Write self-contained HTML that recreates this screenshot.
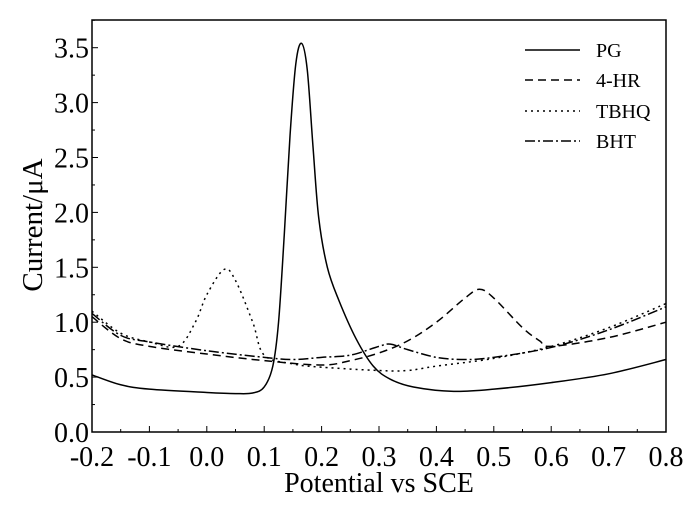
<!DOCTYPE html>
<html><head><meta charset="utf-8"><style>
body{margin:0;background:#fff}
svg text{font-family:"Liberation Serif","Times New Roman",serif;fill:#000}
</style></head><body>
<svg width="700" height="505" xmlns="http://www.w3.org/2000/svg" font-family="Liberation Serif, serif">
<g id="plot"></g>
</svg>
<script>
const xTicks=[-0.2,-0.1,0.0,0.1,0.2,0.3,0.4,0.5,0.6,0.7,0.8];
const yTicks=[0.0,0.5,1.0,1.5,2.0,2.5,3.0,3.5];
const seriesNames=["PG","4-HR","TBHQ","BHT"];
const pgX=[-0.2,-0.15,-0.1,0,0.05,0.08,0.1,0.115,0.125,0.135,0.145,0.155,0.165,0.175,0.185,0.195,0.21,0.23,0.26,0.29,0.32,0.36,0.43,0.5,0.6,0.7,0.8];
const pgY=[0.52,0.43,0.39,0.36,0.35,0.355,0.41,0.6,1.0,1.8,2.7,3.35,3.54,3.3,2.6,1.95,1.5,1.2,0.85,0.6,0.48,0.41,0.37,0.39,0.45,0.53,0.66];
const hrX=[-0.2,-0.15,-0.1,0,0.1,0.2,0.25,0.3,0.35,0.4,0.45,0.475,0.5,0.55,0.58,0.6,0.7,0.8];
const hrY=[1.05,0.85,0.78,0.71,0.65,0.61,0.65,0.72,0.83,1.0,1.22,1.3,1.22,0.95,0.83,0.78,0.86,1.0];
const tbX=[-0.2,-0.15,-0.1,-0.05,-0.02,0,0.03,0.05,0.08,0.1,0.15,0.2,0.3,0.35,0.4,0.5,0.6,0.7,0.8];
const tbY=[1.1,0.9,0.82,0.78,1.0,1.25,1.48,1.38,1.0,0.7,0.62,0.59,0.56,0.56,0.6,0.67,0.78,0.95,1.17];
const btX=[-0.2,-0.15,-0.1,0,0.1,0.15,0.2,0.25,0.3,0.32,0.35,0.4,0.45,0.5,0.6,0.7,0.8];
const btY=[1.08,0.88,0.82,0.74,0.68,0.66,0.68,0.7,0.78,0.8,0.75,0.68,0.66,0.68,0.77,0.93,1.14];

const L=92,R=666,T=20,B=432;
const xs=v=>L+(v+0.2)/1.0*(R-L);
const ys=v=>B-v/3.5*(B-47.7);
const g=document.getElementById('plot');
const NS="http://www.w3.org/2000/svg";
const FF="Liberation Serif, serif";
function mk(t,a){const e=document.createElementNS(NS,t);for(const k in a)e.setAttribute(k,a[k]);g.appendChild(e);return e;}
const frame=mk('rect',{x:L,y:T,width:R-L,height:B-T,fill:'none',stroke:'#000','stroke-width':1.5});


xTicks.forEach((v,i)=>{
  const x=xs(v);
  const t=mk('line',{x1:x,x2:x,y1:B,y2:B-6,stroke:'#000'});
  
  
  if(i<xTicks.length-1){const m=mk('line',{x1:(x+xs(xTicks[i+1]))/2,x2:(x+xs(xTicks[i+1]))/2,y1:B,y2:B-3,stroke:'#000'});
  
  }
  const lb=mk('text',{x:x,y:B+34,'text-anchor':'middle','font-size':28,'font-family':FF});
  lb.textContent=v.toFixed(1);
  
  
});
yTicks.forEach((v,i)=>{
  const y=ys(v);
  const t=mk('line',{x1:L,x2:L+6,y1:y,y2:y,stroke:'#000'});
  
  
  const m=mk('line',{x1:L,x2:L+3,y1:ys(v+0.25),y2:ys(v+0.25),stroke:'#000'});
  
  
  const lb=mk('text',{x:L-3,y:y+10,'text-anchor':'end','font-size':28,'font-family':FF});
  lb.textContent=v.toFixed(1);
  
  
});
const xt=mk('text',{x:379,y:492,'text-anchor':'middle','font-size':28,'font-family':FF});
xt.textContent='Potential vs SCE';


const yt=mk('text',{x:0,y:0,'text-anchor':'middle','font-size':29,'font-family':FF,transform:'translate(42,225) rotate(-90)'});
yt.textContent='Current/μA';


const styles=['none','8,5','2,4','10,3,2,3'];
const data=[[pgX,pgY],[hrX,hrY],[tbX,tbY],[btX,btY]];
function smooth(P){
  let d='M'+P[0][0]+','+P[0][1];
  for(let i=0;i<P.length-1;i++){
    const p0=P[Math.max(0,i-1)],p1=P[i],p2=P[i+1],p3=P[Math.min(P.length-1,i+2)];
    const c1x=p1[0]+(p2[0]-p0[0])/6,c1y=p1[1]+(p2[1]-p0[1])/6;
    const c2x=p2[0]-(p3[0]-p1[0])/6,c2y=p2[1]-(p3[1]-p1[1])/6;
    d+=' C'+c1x+','+c1y+' '+c2x+','+c2y+' '+p2[0]+','+p2[1];
  }
  return d;
}
data.forEach((d,k)=>{
  const P=d[0].map((x,i)=>[xs(x),ys(d[1][i])]);
  const p=mk('path',{d:smooth(P),fill:'none',stroke:'#000','stroke-width':1.5,'stroke-dasharray':styles[k],'stroke-linejoin':'round'});
  
  
  const ly=[50,80,111,141][k];
  const ll=mk('line',{x1:525,x2:580,y1:ly,y2:ly,stroke:'#000','stroke-width':1.5,'stroke-dasharray':styles[k]});
  
  
  const lt=mk('text',{x:596,y:ly+7,'font-size':20,'font-family':FF});
  lt.textContent=seriesNames[k];
  
  
});
</script>
</body></html>
